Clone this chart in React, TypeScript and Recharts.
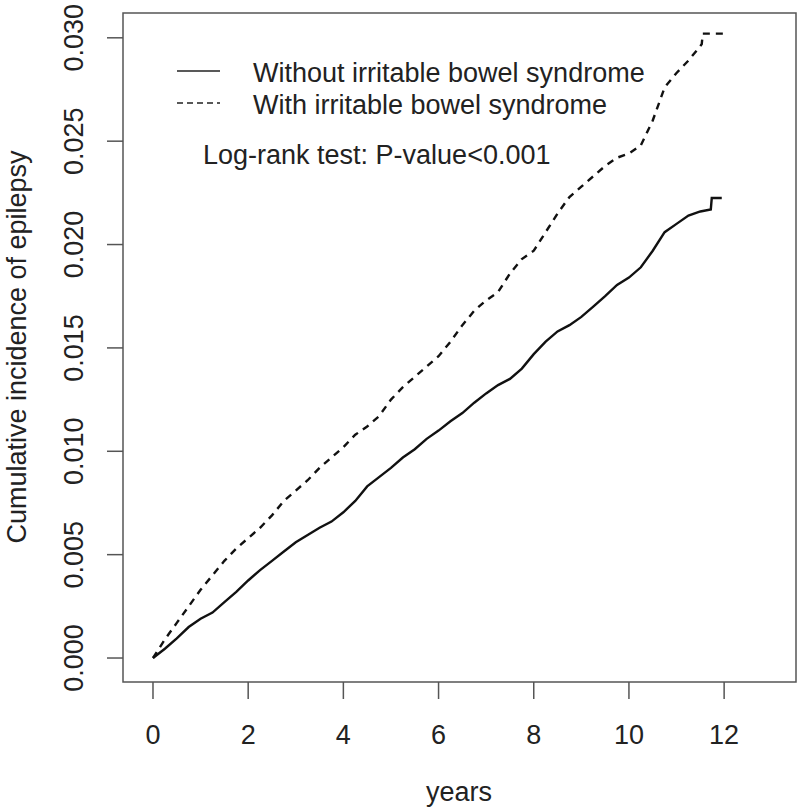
import { LineChart, Line, XAxis, YAxis, ReferenceArea } from "recharts";

// years since index date
const solidYears = [
  0, 0.25, 0.5, 0.75, 1, 1.25, 1.5, 1.75, 2, 2.25, 2.5, 2.75, 3, 3.25, 3.5,
  3.75, 4, 4.25, 4.5, 4.75, 5, 5.25, 5.5, 5.75, 6, 6.25, 6.5, 6.75, 7, 7.25,
  7.5, 7.75, 8, 8.25, 8.5, 8.75, 9, 9.25, 9.5, 9.75, 10, 10.25, 10.5, 10.75,
  11, 11.25, 11.5, 11.72, 11.74, 11.95,
];
// cumulative incidence, without irritable bowel syndrome
const solidIncidence = [
  0, 0.00045, 0.00095, 0.0015, 0.0019, 0.0022, 0.0027, 0.0032, 0.00375,
  0.00425, 0.0047, 0.00515, 0.0056, 0.00595, 0.0063, 0.0066, 0.00705, 0.0076,
  0.0083, 0.00875, 0.0092, 0.0097, 0.0101, 0.0106, 0.011, 0.01145, 0.01185,
  0.01235, 0.0128, 0.0132, 0.0135, 0.014, 0.0147, 0.0153, 0.0158, 0.0161,
  0.0165, 0.017, 0.0175, 0.01805, 0.0184, 0.0189, 0.0197, 0.0206, 0.021,
  0.0214, 0.0216, 0.0217, 0.02225, 0.02225,
];

const dashedYears = [
  0, 0.25, 0.5, 0.75, 1, 1.25, 1.5, 1.75, 2, 2.25, 2.5, 2.75, 3, 3.25, 3.5,
  3.75, 4, 4.25, 4.5, 4.75, 5, 5.25, 5.5, 5.75, 6, 6.25, 6.5, 6.75, 7, 7.25,
  7.5, 7.75, 8, 8.25, 8.5, 8.75, 9, 9.25, 9.5, 9.75, 10, 10.25, 10.5, 10.75,
  11, 11.25, 11.5, 11.53, 11.55, 12,
];
// cumulative incidence, with irritable bowel syndrome
const dashedIncidence = [
  0, 0.0009, 0.0017, 0.0025, 0.0033, 0.004, 0.0047, 0.0053, 0.0058, 0.0063,
  0.0069, 0.0076, 0.0081, 0.0086, 0.0092, 0.0097, 0.0102, 0.0108, 0.0112,
  0.0117, 0.0125, 0.0131, 0.0136, 0.0141, 0.0146, 0.0153, 0.0161, 0.0168,
  0.0173, 0.0177, 0.0186, 0.0193, 0.0197, 0.0206, 0.0215, 0.0223, 0.0228,
  0.0233, 0.0238, 0.0242, 0.0244, 0.0248, 0.026, 0.0276, 0.0283, 0.0289,
  0.0296, 0.0297, 0.0302, 0.0302,
];

const xTicks = [0, 2, 4, 6, 8, 10, 12];
const yTicks = [0, 0.005, 0.01, 0.015, 0.02, 0.025, 0.03];
const xDomain = [-0.63, 13.51];
const yDomain = [-0.00116, 0.0312];

const solidData = solidYears.map((t, i) => ({ t, v: solidIncidence[i] }));
const dashedData = dashedYears.map((t, i) => ({ t, v: dashedIncidence[i] }));

const FONT = '"Liberation Sans", Arial, sans-serif';
const TEXT = "#222";
const AXIS = "#555";

const XTick = (props: any) => {
  const { x, payload } = props;
  return (
    <text x={x} y={744} textAnchor="middle" fontFamily={FONT} fontSize={27} fill={TEXT}>
      {payload.value}
    </text>
  );
};

const YTick = (props: any) => {
  const { y, payload } = props;
  return (
    <text
      transform={`translate(83, ${y}) rotate(-90)`}
      textAnchor="middle"
      fontFamily={FONT}
      fontSize={27}
      fill={TEXT}
    >
      {Number(payload.value).toFixed(3)}
    </text>
  );
};

const App = () => {
  return (
    <div style={{ position: "absolute", left: 0, top: 0, width: 800, height: 808, background: "#fff" }}>
      <LineChart
        width={800}
        height={808}
        margin={{ top: 13, right: 4, bottom: 0, left: 0 }}
      >
        <XAxis
          dataKey="t"
          type="number"
          domain={xDomain}
          ticks={xTicks}
          height={126}
          axisLine={false}
          tickLine={{ stroke: AXIS, strokeWidth: 1.5 }}
          tickSize={17}
          tick={<XTick />}
          allowDataOverflow
        />
        <YAxis
          type="number"
          domain={yDomain}
          ticks={yTicks}
          width={123}
          axisLine={false}
          tickLine={{ stroke: AXIS, strokeWidth: 1.5 }}
          tickSize={16}
          tick={<YTick />}
          allowDataOverflow
        />
        <ReferenceArea
          x1={xDomain[0]}
          x2={xDomain[1]}
          y1={yDomain[0]}
          y2={yDomain[1]}
          fill="none"
          stroke={AXIS}
          strokeWidth={1.5}
          ifOverflow="visible"
        />
        <Line
          data={solidData}
          dataKey="v"
          type="linear"
          stroke="#111"
          strokeWidth={2.4}
          dot={false}
          isAnimationActive={false}
        />
        <Line
          data={dashedData}
          dataKey="v"
          type="linear"
          stroke="#111"
          strokeWidth={2.4}
          strokeDasharray="7 6"
          dot={false}
          isAnimationActive={false}
        />
      </LineChart>
      <svg
        width={800}
        height={808}
        style={{ position: "absolute", left: 0, top: 0, pointerEvents: "none" }}
        fontFamily={FONT}
        fontSize={27}
        fill={TEXT}
      >
        <line x1={177} x2={220} y1={71} y2={71} stroke="#222" strokeWidth={1.4} />
        <line x1={177} x2={220} y1={103} y2={103} stroke="#222" strokeWidth={1.4} strokeDasharray="6 4" />
        <text x={253} y={82}>Without irritable bowel syndrome</text>
        <text x={253} y={114}>With irritable bowel syndrome</text>
        <text x={203} y={164}>Log-rank test: P-value&lt;0.001</text>
        <text x={459} y={801} textAnchor="middle">years</text>
        <text transform="translate(26, 347) rotate(-90)" textAnchor="middle">
          Cumulative incidence of epilepsy
        </text>
      </svg>
    </div>
  );
};

export default App;
